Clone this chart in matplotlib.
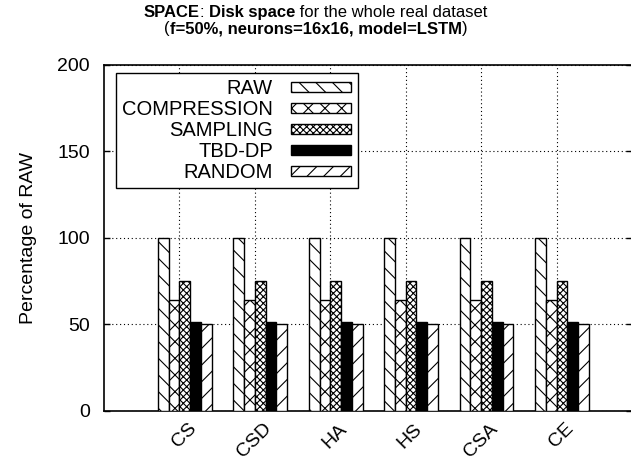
import numpy as np
import matplotlib
matplotlib.use("Agg")
import matplotlib.pyplot as plt
from matplotlib.offsetbox import TextArea, HPacker, VPacker, AnchoredOffsetbox
from matplotlib.transforms import ScaledTranslation

plt.rcParams['font.family'] = ['Liberation Sans', 'DejaVu Sans']
plt.rcParams['hatch.linewidth'] = 0.8

datasets = ["CS", "CSD", "HA", "HS", "CSA", "CE"]
series = ["RAW", "COMPRESSION", "SAMPLING", "TBD-DP", "RANDOM"]
raw = [100, 100, 100, 100, 100, 100]
compression = [64, 64, 64, 64, 64, 64]
sampling = [75, 75, 75, 75, 75, 75]
tbd_dp = [51, 51, 51, 51, 51, 51]
random_ = [50, 50, 50, 50, 50, 50]
values = [raw, compression, sampling, tbd_dp, random_]

hatches = ["\\\\", "xx", "xxxxx", "", "//"]
faces = ["white", "white", "white", "black", "white"]

fig = plt.figure(figsize=(6.31, 4.70), dpi=100)
W, H = 631, 470
ax = fig.add_axes([104 / W, 1 - 410.5 / H, 528 / W, 345.8 / H])

x = np.arange(len(datasets))
w = 1 / 7
for k, (name, vals) in enumerate(zip(series, values)):
    ax.bar(x + (k - 1.5) * w, vals, width=w, facecolor=faces[k],
           edgecolor="black", hatch=hatches[k], linewidth=1.0,
           label=name, zorder=3)

ax.set_xlim(-1, 6)
ax.set_ylim(0, 200)
ax.set_yticks([0, 50, 100, 150, 200])
ax.set_xticks(x)
ax.set_xticklabels(datasets)

ax.grid(True, color="black", linestyle=(0, (1, 2.5)), linewidth=0.8, zorder=0)
ax.set_axisbelow(True)

ax.tick_params(axis="y", direction="in", length=4.5, width=1, right=True,
               labelsize=14, pad=10)
ax.tick_params(axis="x", length=0, labelsize=14, pad=12)
for sp in ax.spines.values():
    sp.set_linewidth(1.2)

off = ScaledTranslation(14 / 100, 1 / 100, fig.dpi_scale_trans)
for lab in ax.get_xticklabels():
    lab.set_rotation(45)
    lab.set_ha("right")
    lab.set_va("center")
    lab.set_rotation_mode("anchor")
    lab.set_transform(lab.get_transform() + off)

ax.set_ylabel("Percentage of RAW", fontsize=14)
ax.yaxis.set_label_coords(-0.127, 0.5)

leg = ax.legend(loc="upper left", bbox_to_anchor=(12 / 528, (410.5 - 73.3) / 345.8),
                borderaxespad=0, markerfirst=False, fontsize=14.5,
                handlelength=3.0, handleheight=0.42, handletextpad=0.9,
                labelspacing=0.1, borderpad=0.3, fancybox=False,
                edgecolor="black", framealpha=1)
leg.get_frame().set_linewidth(1.0)

bold = dict(fontsize=12, fontweight="bold", color="black")
reg = dict(fontsize=12, color="black")
line1 = HPacker(children=[TextArea("SPACE", textprops=bold),
                          TextArea(": ", textprops=reg),
                          TextArea("Disk space", textprops=bold),
                          TextArea(" for the whole real dataset", textprops=reg)],
                pad=0, sep=0, align="baseline")
line2 = HPacker(children=[TextArea("(", textprops=reg),
                          TextArea("f=50%, neurons=16x16, model=LSTM", textprops=bold),
                          TextArea(")", textprops=reg)],
                pad=0, sep=0, align="baseline")
title = VPacker(children=[line1, line2], pad=0, sep=1, align="center")
fig.add_artist(AnchoredOffsetbox(loc="upper center", child=title, pad=0,
                                 borderpad=0, frameon=False,
                                 bbox_to_anchor=(0.5, 1 - 5 / H),
                                 bbox_transform=fig.transFigure))

fig.savefig("out.png", dpi=100)
